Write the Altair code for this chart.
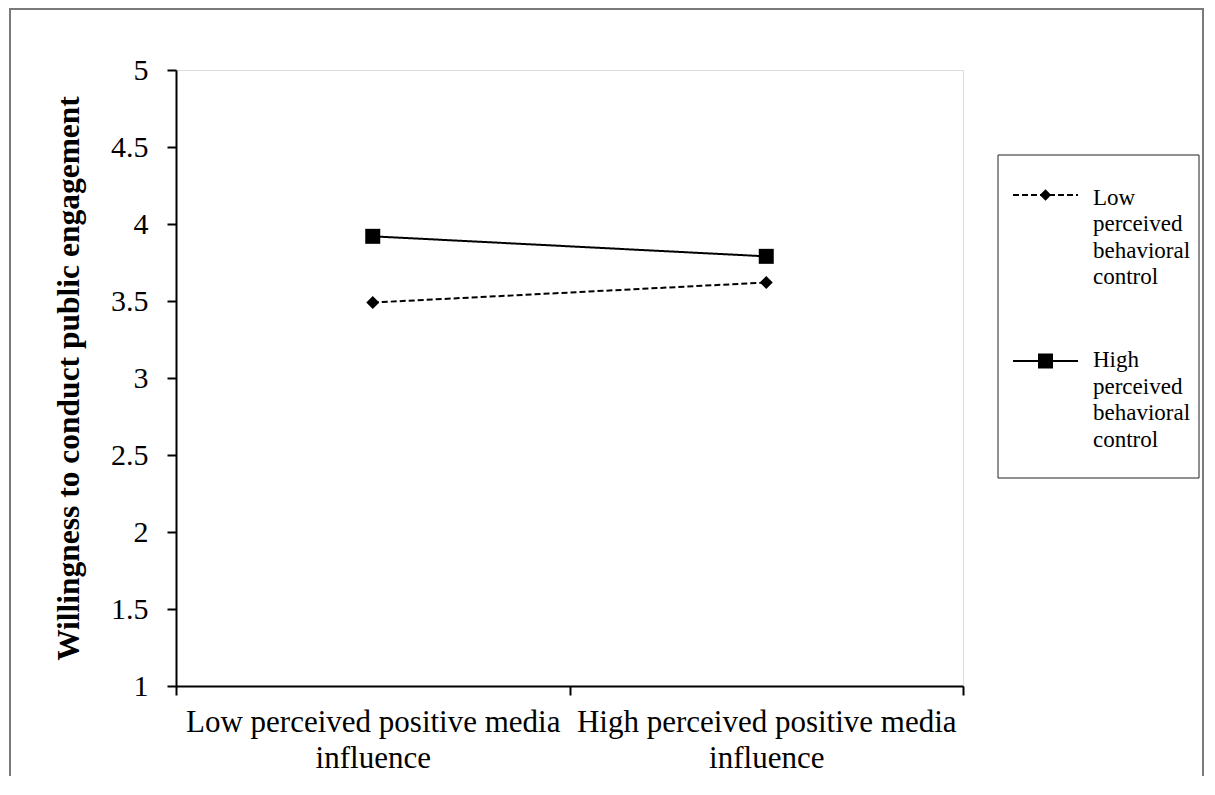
import altair as alt
import pandas as pd

categories = ["Low perceived positive media influence", "High perceived positive media influence"]
series_names = ["Low perceived behavioral control", "High perceived behavioral control"]
low_pbc = [3.49, 3.62]
high_pbc = [3.92, 3.79]
y_ticks = [1, 1.5, 2, 2.5, 3, 3.5, 4, 4.5, 5]

rows = []
for s, vals in zip(series_names, [low_pbc, high_pbc]):
    for c, v in zip(categories, vals):
        rows.append({"media": c, "pbc": s, "value": v})
df = pd.DataFrame(rows)

FONT = "Liberation Serif"

x_enc = alt.X(
    "media:N",
    sort=categories,
    bandPosition=0.5,
    scale=alt.Scale(type="band", domain=categories, paddingInner=0, paddingOuter=0),
    axis=alt.Axis(
        title=None, labelAngle=0, tickBand="extent",
        labelExpr="datum.label ? [replace(datum.label, ' influence', ''), 'influence'] : ''",
        labelFont=FONT, labelFontSize=31, labelColor="black", labelPadding=12,
        labelLimit=600, labelLineHeight=36, tickSize=9, tickColor="black", tickWidth=2,
        domainColor="black", domainWidth=2,
    ),
)

y_enc = alt.Y(
    "value:Q",
    scale=alt.Scale(domain=[1, 5], nice=False, zero=False),
    axis=alt.Axis(
        title="Willingness to conduct  public engagement", values=y_ticks, format="~g",
        grid=False, tickSize=9, tickColor="black", tickWidth=2,
        domainColor="black", domainWidth=2,
        labelFont=FONT, labelFontSize=30, labelColor="black", labelPadding=19,
        titleFont=FONT, titleFontSize=31.5, titleFontWeight="bold", titleColor="black",
        titlePadding=25,
    ),
)

lines = alt.Chart(df).mark_line(color="black", strokeWidth=2).encode(
    x=x_enc, y=y_enc,
    strokeDash=alt.StrokeDash("pbc:N", scale=alt.Scale(domain=series_names, range=[[6, 3], [1, 0]]), legend=None),
)

points_low = alt.Chart(df).transform_filter(alt.datum.pbc == series_names[0]).mark_point(
    filled=True, color="black", opacity=1, shape="diamond", size=170
).encode(x=x_enc, y=y_enc)

points_high = alt.Chart(df).transform_filter(alt.datum.pbc == series_names[1]).mark_point(
    filled=True, color="black", opacity=1, shape="square", size=225
).encode(x=x_enc, y=y_enc)

one = pd.DataFrame({"f": [0]})

# outer picture frame
frame = alt.Chart(one).mark_rect(fillOpacity=0, stroke="#7a7a7a", strokeWidth=2).encode(
    x=alt.value(-166), x2=alt.value(1027), y=alt.value(-61), y2=alt.value(760)
)

# legend (box, sample line, marker, wrapped label per series)
legend_layers = [
    alt.Chart(one).mark_rect(fill="white", stroke="#222222", strokeWidth=1).encode(
        x=alt.value(822), x2=alt.value(1023), y=alt.value(85), y2=alt.value(408)
    )
]
entry_style = [
    {"dash": [6, 3], "shape": "diamond", "size": 130, "y": 125, "ty": 117, "lh": 26.3},
    {"dash": [1, 0], "shape": "square", "size": 225, "y": 291, "ty": 279, "lh": 26.6},
]
for name, st in zip(series_names, entry_style):
    legend_layers.append(
        alt.Chart(one).mark_rule(color="black", strokeWidth=2, strokeDash=st["dash"]).encode(
            x=alt.value(837), x2=alt.value(902), y=alt.value(st["y"])
        )
    )
    legend_layers.append(
        alt.Chart(one).mark_point(filled=True, color="black", opacity=1, shape=st["shape"], size=st["size"]).encode(
            x=alt.value(869.5), y=alt.value(st["y"])
        )
    )
    legend_layers.append(
        alt.Chart(one).mark_text(
            text=name.split(" "), font=FONT, fontSize=23, color="black", align="left",
            baseline="top", lineHeight=st["lh"],
        ).encode(x=alt.value(917), y=alt.value(st["ty"]))
    )

chart = alt.layer(frame, lines, points_low, points_high, *legend_layers).properties(
    width=787, height=616,
    autosize=alt.AutoSizeParams(type="none"),
    padding={"left": 168, "top": 62, "right": 242, "bottom": 90},
).configure_view(stroke="#888888", strokeWidth=1.5).configure(background="white")

chart.save("out.html", embed_options={"renderer": "svg", "actions": False})
